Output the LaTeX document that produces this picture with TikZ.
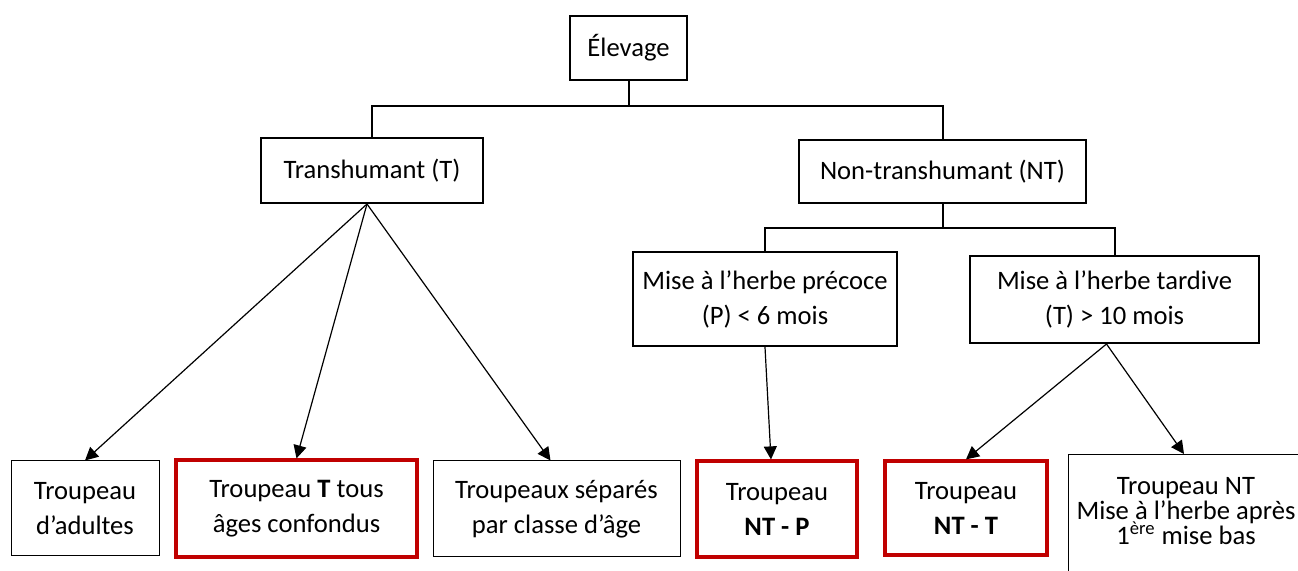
\documentclass[tikz,border=0pt]{standalone}
\usepackage{fontspec}
\setmainfont{Carlito}
\usetikzlibrary{arrows.meta}
\definecolor{boxred}{HTML}{C00000}

\begin{document}
\begin{tikzpicture}[x=0.5pt,y=-0.5pt,>={Triangle[length=6.5pt,width=6.5pt]},
  every node/.style={font=\fontsize{13.3}{17.5}\selectfont, align=center, inner sep=0pt},
  box/.style={draw, line width=1pt},
  leaf/.style={draw, line width=0.5pt},
  chosen/.style={draw=boxred, line width=1.6pt},
  link/.style={line width=1pt},
  arr/.style={->, line width=0.6pt}]
  \clip (0,0) rectangle (1298,571);

  \node[box, minimum width=58.5pt, minimum height=32pt]   (elevage)  at (628.5,48)   {Élevage};
  \node[box, minimum width=111pt, minimum height=32.5pt]  (trans)    at (372,170.5)  {Transhumant (T)};
  \node[box, minimum width=143.5pt, minimum height=31.5pt] (nontrans) at (942.5,171.5) {Non-transhumant (NT)};
  \node[box, minimum width=132pt, minimum height=47pt]    (precoce)  at (765,299)    {Mise à l’herbe précoce\\(P) < 6 mois};
  \node[box, minimum width=144.5pt, minimum height=43.5pt] (tardive)  at (1114.5,299.5) {Mise à l’herbe tardive\\(T) > 10 mois};

  \node[leaf, minimum width=74pt, minimum height=47.5pt]    (adultes)  at (85,508.5)   {Troupeau\\d’adultes};
  \node[chosen, minimum width=120.5pt, minimum height=48.5pt] (tousages) at (296.5,508.5) {Troupeau \textbf{T} tous\\âges confondus};
  \node[leaf, minimum width=123.5pt, minimum height=48pt]   (separes)  at (556.5,509)  {Troupeaux séparés\\par classe d’âge};
  \node[chosen, minimum width=80pt, minimum height=48pt]    (ntp)      at (777,509)    {Troupeau\\\textbf{NT - P}};
  \node[chosen, minimum width=81pt, minimum height=47pt]    (ntt)      at (966,508)    {Troupeau\\\textbf{NT - T}};
  \node[leaf, anchor=north west, minimum width=125pt, minimum height=75pt] (misebox) at (1068,454) {};
  \node[font={\fontsize{13.3}{12.6}\selectfont\lineskiplimit=-20pt}] (misebas) at (1186,511)
    {Troupeau NT\\Mise à l’herbe après\hspace*{8pt}\\1\textsuperscript{ère} mise bas};

  % elbow connectors
  \coordinate (top) at (628.5,106);
  \coordinate (mid) at (942.5,228);
  \draw[link] (elevage.south) -- (top);
  \draw[link] (trans.north) |- (top) -| (nontrans.north);
  \draw[link] (nontrans.south) -- (mid);
  \draw[link] (precoce.north) |- (mid) -| (tardive.north);

  % arrows to the herds
  \path[arr]
  ([xshift=-2.5pt]trans.south)
  edge (adultes.north)
  edge (tousages.north)
  edge ([xshift=-3pt]separes.north)

  (precoce.south)
  edge ([xshift=-3pt]ntp.north)

  ([xshift=-4pt]tardive.south)
  edge (ntt.north)
  edge ([xshift=58pt]misebox.north west)
;
\end{tikzpicture}
\end{document}
